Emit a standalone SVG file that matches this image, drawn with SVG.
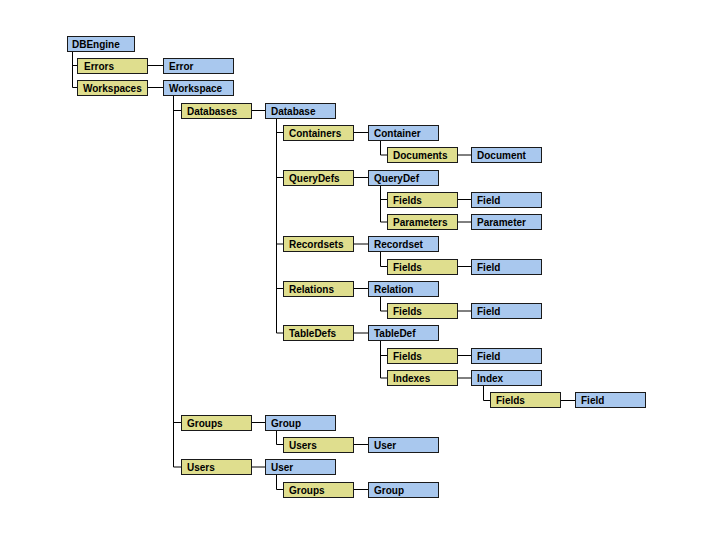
<svg xmlns="http://www.w3.org/2000/svg" width="720" height="540" viewBox="0 0 720 540">
<style>
.y{fill:#dfde8e;stroke:#1a1a1a;stroke-width:1}
.b{fill:#a9c8ee;stroke:#1a1a1a;stroke-width:1}
text{font-family:"Liberation Sans",Arial,sans-serif;font-weight:bold;font-size:10px;fill:#000}
.c{stroke:#000;stroke-width:1;fill:none}
</style>
<rect width="720" height="540" fill="#fff"/>
<g id="connectors" class="c">
<path d="M72.5 51V87.5M72.5 65.5H77M72.5 87.5H77"/>
<path d="M147 65.5H163M147 87.5H163"/>
<path d="M173.5 95V467M173.5 110.5H181M173.5 422.5H181M173.5 467H181"/>
<path d="M251 110.5H265M251 422.5H265M251 467H265"/>
<path d="M276.5 118V333M276.5 132.5H283M276.5 177.5H283M276.5 244H283M276.5 288.5H283M276.5 333H283"/>
<path d="M276.5 430V444.5H283M276.5 475V489.5H283"/>
<path d="M353 132.5H368M353 177.5H368M353 244H368M353 288.5H368M353 333H368M353 444.5H368M353 489.5H368"/>
<path d="M380.5 140V155H387M380.5 185V222H387M380.5 199.5H387M380.5 252V266.5H387M380.5 296V311H387M380.5 341V378H387M380.5 355.5H387"/>
<path d="M457 155H471M457 199.5H471M457 222H471M457 266.5H471M457 311H471M457 355.5H471M457 378H471"/>
<path d="M483.5 386V400.5H490M560 400.5H575"/>
</g>
<g id="n0"><rect class="b" x="67.5" y="36.5" width="67" height="15"/><text x="72" y="47.5">DBEngine</text></g>
<g id="n1"><rect class="y" x="77.5" y="58.5" width="70" height="15"/><text x="84" y="69.5">Errors</text></g>
<g id="n2"><rect class="b" x="163.5" y="58.5" width="70" height="15"/><text x="169" y="69.5">Error</text></g>
<g id="n3"><rect class="y" x="77.5" y="80.5" width="70" height="15"/><text x="83" y="91.5">Workspaces</text></g>
<g id="n4"><rect class="b" x="163.5" y="80.5" width="70" height="15"/><text x="169" y="91.5">Workspace</text></g>
<g id="n5"><rect class="y" x="181.5" y="103.5" width="70" height="15"/><text x="187" y="114.5">Databases</text></g>
<g id="n6"><rect class="b" x="265.5" y="103.5" width="70" height="15"/><text x="271" y="114.5">Database</text></g>
<g id="n7"><rect class="y" x="283.5" y="125.5" width="70" height="15"/><text x="289" y="136.5">Containers</text></g>
<g id="n8"><rect class="b" x="368.5" y="125.5" width="70" height="15"/><text x="374" y="136.5">Container</text></g>
<g id="n9"><rect class="y" x="387.5" y="147.5" width="70" height="15"/><text x="393" y="158.5">Documents</text></g>
<g id="n10"><rect class="b" x="471.5" y="147.5" width="70" height="15"/><text x="477" y="158.5">Document</text></g>
<g id="n11"><rect class="y" x="283.5" y="170.5" width="70" height="15"/><text x="289" y="181.5">QueryDefs</text></g>
<g id="n12"><rect class="b" x="368.5" y="170.5" width="70" height="15"/><text x="374" y="181.5">QueryDef</text></g>
<g id="n13"><rect class="y" x="387.5" y="192.5" width="70" height="15"/><text x="393" y="203.5">Fields</text></g>
<g id="n14"><rect class="b" x="471.5" y="192.5" width="70" height="15"/><text x="477" y="203.5">Field</text></g>
<g id="n15"><rect class="y" x="387.5" y="214.5" width="70" height="15"/><text x="393" y="225.5">Parameters</text></g>
<g id="n16"><rect class="b" x="471.5" y="214.5" width="70" height="15"/><text x="477" y="225.5">Parameter</text></g>
<g id="n17"><rect class="y" x="283.5" y="236.5" width="70" height="15"/><text x="289" y="247.5">Recordsets</text></g>
<g id="n18"><rect class="b" x="368.5" y="236.5" width="70" height="15"/><text x="374" y="247.5">Recordset</text></g>
<g id="n19"><rect class="y" x="387.5" y="259.5" width="70" height="15"/><text x="393" y="270.5">Fields</text></g>
<g id="n20"><rect class="b" x="471.5" y="259.5" width="70" height="15"/><text x="477" y="270.5">Field</text></g>
<g id="n21"><rect class="y" x="283.5" y="281.5" width="70" height="15"/><text x="289" y="292.5">Relations</text></g>
<g id="n22"><rect class="b" x="368.5" y="281.5" width="70" height="15"/><text x="374" y="292.5">Relation</text></g>
<g id="n23"><rect class="y" x="387.5" y="303.5" width="70" height="15"/><text x="393" y="314.5">Fields</text></g>
<g id="n24"><rect class="b" x="471.5" y="303.5" width="70" height="15"/><text x="477" y="314.5">Field</text></g>
<g id="n25"><rect class="y" x="283.5" y="325.5" width="70" height="15"/><text x="289" y="336.5">TableDefs</text></g>
<g id="n26"><rect class="b" x="368.5" y="325.5" width="70" height="15"/><text x="374" y="336.5">TableDef</text></g>
<g id="n27"><rect class="y" x="387.5" y="348.5" width="70" height="15"/><text x="393" y="359.5">Fields</text></g>
<g id="n28"><rect class="b" x="471.5" y="348.5" width="70" height="15"/><text x="477" y="359.5">Field</text></g>
<g id="n29"><rect class="y" x="387.5" y="370.5" width="70" height="15"/><text x="393" y="381.5">Indexes</text></g>
<g id="n30"><rect class="b" x="471.5" y="370.5" width="70" height="15"/><text x="477" y="381.5">Index</text></g>
<g id="n31"><rect class="y" x="490.5" y="392.5" width="70" height="15"/><text x="496" y="403.5">Fields</text></g>
<g id="n32"><rect class="b" x="575.5" y="392.5" width="70" height="15"/><text x="581" y="403.5">Field</text></g>
<g id="n33"><rect class="y" x="181.5" y="415.5" width="70" height="15"/><text x="187" y="426.5">Groups</text></g>
<g id="n34"><rect class="b" x="265.5" y="415.5" width="70" height="15"/><text x="271" y="426.5">Group</text></g>
<g id="n35"><rect class="y" x="283.5" y="437.5" width="70" height="15"/><text x="289" y="448.5">Users</text></g>
<g id="n36"><rect class="b" x="368.5" y="437.5" width="70" height="15"/><text x="374" y="448.5">User</text></g>
<g id="n37"><rect class="y" x="181.5" y="459.5" width="70" height="15"/><text x="187" y="470.5">Users</text></g>
<g id="n38"><rect class="b" x="265.5" y="459.5" width="70" height="15"/><text x="271" y="470.5">User</text></g>
<g id="n39"><rect class="y" x="283.5" y="482.5" width="70" height="15"/><text x="289" y="493.5">Groups</text></g>
<g id="n40"><rect class="b" x="368.5" y="482.5" width="70" height="15"/><text x="374" y="493.5">Group</text></g>
</svg>
